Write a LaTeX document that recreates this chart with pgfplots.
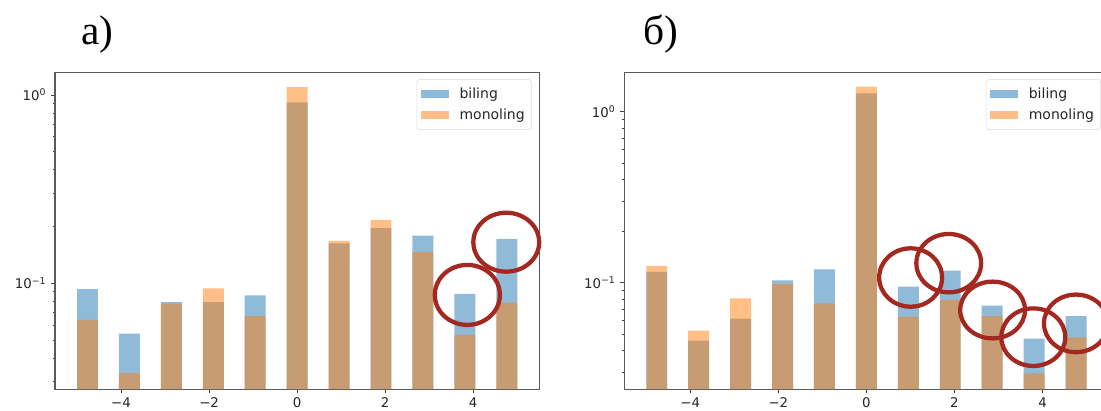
\documentclass[border=0pt]{standalone}
\usepackage{fontspec}
\setmainfont{DejaVu Sans}
\newfontfamily\titlefont{Liberation Serif}
\usepackage{pgfplots}
\usepackage{pgfplotstable}
\pgfplotsset{compat=1.18}
\definecolor{tabblue}{HTML}{1F77B4}
\definecolor{taborange}{HTML}{FF7F0E}
\definecolor{circred}{HTML}{A3281F}

\pgfplotstableread{
x        bil     mono
-4.7619  0.0930  0.0640
-3.8095  0.0540  0.0333
-2.8571  0.0795  0.0780
-1.9048  0.0793  0.0940
-0.9524  0.0863  0.0670
 0.0000  0.9140  1.1000
 0.9524  0.1630  0.1680
 1.9048  0.1960  0.2170
 2.8571  0.1790  0.1470
 3.8095  0.0878  0.0532
 4.7619  0.1720  0.0789
}\tableA

\pgfplotstableread{
x        bil     mono
-4.7619  0.1155  0.1252
-3.8095  0.0458  0.0524
-2.8571  0.0616  0.0810
-1.9048  0.1032  0.0982
-0.9524  0.1197  0.0757
 0.0000  1.2790  1.4000
 0.9524  0.0947  0.0633
 1.9048  0.1176  0.0792
 2.8571  0.0734  0.0638
 3.8095  0.0470  0.0295
 4.7619  0.0638  0.0479
}\tableB

\pgfplotsset{
  histstyle/.style={
    scale only axis, width=363.2pt, height=237.75pt,
    anchor=south west, clip=false,
    xmin=-5.5, xmax=5.5, log origin=infty,
    xtick={-4,-2,0,2,4}, xticklabels={−4,−2,0,2,4},
    ytick={0.1,1}, yticklabels={10\textsuperscript{−1},10\textsuperscript{0}},
    minor ytick={0.02,0.03,0.04,0.05,0.06,0.07,0.08,0.09,0.2,0.3,0.4,0.5,0.6,0.7,0.8,0.9,2,3},
    tick pos=left, tick align=outside,
    major tick length=3pt, minor tick length=1.7pt,
    every tick/.append style={black!75, line width=0.6pt},
    axis line style={black!65, line width=1.1pt},
    tick label style={font=\fontsize{10}{12}\selectfont, text=black!85},
    legend style={at={(1,1)}, anchor=north east, xshift=-5.7pt, yshift=-5.3pt,
      draw=black!15, rounded corners=2pt, fill=white,
      font=\fontsize{10.5}{12.6}\selectfont, text=black!85,
      inner xsep=3pt, inner ysep=4pt, row sep=2.5pt, column sep=6pt,
      cells={anchor=west}},
    legend image code/.code={\fill[##1, sharp corners] (0pt,-3.2pt) rectangle (21pt,3.2pt);},
  },
  barb/.style={ybar, bar width=0.47619, bar shift=0pt, draw=none, fill=tabblue, fill opacity=0.5},
  baro/.style={ybar, bar width=0.47619, bar shift=0pt, draw=none, fill=taborange, fill opacity=0.5},
}
\tikzset{circ/.style={draw=circred, line width=3.2pt}}

\begin{document}
\begin{tikzpicture}
\path[use as bounding box] (0,0) rectangle (825.75pt,308.25pt);

\node[anchor=base west, inner sep=0pt, font=\titlefont\fontsize{31}{36}\selectfont] at (60.75pt,274.5pt) {a)};
\node[anchor=base west, inner sep=0pt, font=\titlefont\fontsize{31}{36}\selectfont] at (482.25pt,274.5pt) {б)};

\begin{semilogyaxis}[histstyle, at={(41.25pt,16.3pt)}, ymin=0.02735, ymax=1.32]
  \addplot[barb] table[x=x, y=bil] {\tableA};
  \addlegendentry{biling}
  \addplot[baro] table[x=x, y=mono] {\tableA};
  \addlegendentry{monoling}
  \draw[circ] (axis cs:3.866,0.0867) ellipse [x radius=24.4pt, y radius=22.5pt];
  \draw[circ] (axis cs:4.75,0.1652) ellipse [x radius=24.7pt, y radius=22.1pt];
\end{semilogyaxis}

\begin{semilogyaxis}[histstyle, at={(468.2pt,16.3pt)}, ymin=0.0238, ymax=1.70]
  \addplot[barb] table[x=x, y=bil] {\tableB};
  \addlegendentry{biling}
  \addplot[baro] table[x=x, y=mono] {\tableB};
  \addlegendentry{monoling}
  \draw[circ] (axis cs:1.005,0.1072) ellipse [x radius=23.6pt, y radius=21.9pt];
  \draw[circ] (axis cs:1.870,0.1300) ellipse [x radius=24.3pt, y radius=21.9pt];
  \draw[circ] (axis cs:2.867,0.0692) ellipse [x radius=24.3pt, y radius=21.3pt];
  \draw[circ] (axis cs:3.791,0.0480) ellipse [x radius=24pt, y radius=21.6pt];
  \draw[circ] (axis cs:4.76,0.0578) ellipse [x radius=24pt, y radius=21.6pt];
\end{semilogyaxis}
\end{tikzpicture}
\end{document}
